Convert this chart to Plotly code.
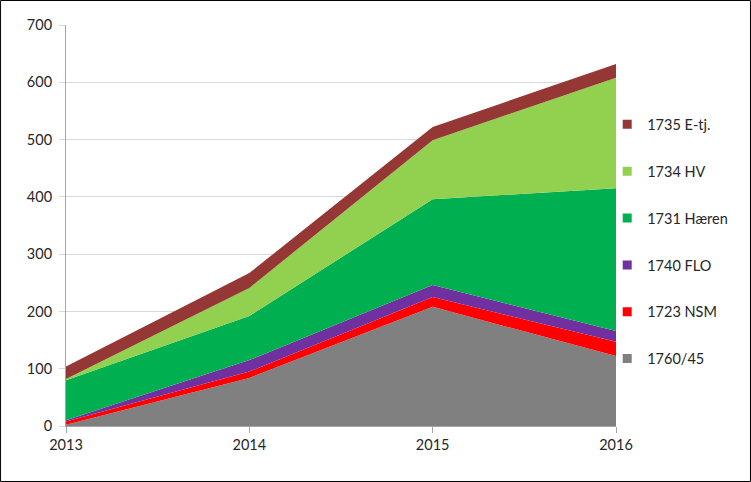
import plotly.graph_objects as go

years = [2013, 2014, 2015, 2016]
series_names = ["1760/45", "1723 NSM", "1740 FLO", "1731 Hæren", "1734 HV", "1735 E-tj."]
s_1760_45 = [2, 84, 208, 122]
s_1723_nsm = [6, 11, 17, 25]
s_1740_flo = [2, 20, 21, 19]
s_1731_haeren = [70, 77, 150, 249]
s_1734_hv = [2, 49, 103, 193]
s_1735_etj = [22, 26, 23, 24]
series_values = [s_1760_45, s_1723_nsm, s_1740_flo, s_1731_haeren, s_1734_hv, s_1735_etj]
colors = ["#808080", "#ff0000", "#7030a0", "#00b050", "#92d050", "#953735"]
y_ticks = [0, 100, 200, 300, 400, 500, 600, 700]

fig = go.Figure()
n = len(series_names)
for i, (name, vals, col) in enumerate(zip(series_names, series_values, colors)):
    fig.add_trace(go.Scatter(
        x=years, y=vals, name=name, mode="none", stackgroup="one",
        fillcolor=col, line=dict(width=0), legendgroup=name, showlegend=False,
    ))
    # legend entry with square swatch
    fig.add_trace(go.Scatter(
        x=[None], y=[None], name=name, mode="markers",
        marker=dict(symbol="square", size=9, color=col),
        legendgroup=name, legendrank=n - i, hoverinfo="skip",
    ))

font = "Lato, 'Open Sans', sans-serif"
fig.update_layout(
    width=751, height=482,
    margin=dict(l=66, r=135, t=25, b=56),
    paper_bgcolor="white", plot_bgcolor="white",
    font=dict(family=font, size=14.5, color="#262626"),
    showlegend=True,
    legend=dict(
        traceorder="grouped", tracegroupgap=25,
        x=0.984, xanchor="left", y=0.792, yanchor="top",
        font=dict(size=14.5, color="#262626"),
        bgcolor="rgba(0,0,0,0)", itemwidth=30,
    ),
    xaxis=dict(
        range=[2013, 2016], tickvals=years, ticktext=[str(y) for y in years],
        showgrid=False, zeroline=False, showline=True, linecolor="#a6a6a6",
        ticks="outside", ticklen=6, tickcolor="#a6a6a6",
    ),
    yaxis=dict(
        range=[0, 700], tickvals=y_ticks, showgrid=True, gridcolor="#d9d9d9",
        zeroline=False, showline=True, linecolor="#a6a6a6",
        ticks="outside", ticklen=6, tickcolor="#d9d9d9", ticklabelstandoff=4,
    ),
    shapes=[dict(type="rect", xref="paper", yref="paper",
                 x0=-0.1190, x1=1.2445, y0=-0.1384, y1=1.0611,
                 line=dict(color="black", width=1), fillcolor="rgba(0,0,0,0)",
                 layer="below")],
)

fig.write_html("out.html", config={"displayModeBar": False},
               post_script="document.body.style.margin='0';document.body.style.overflow='hidden';")
